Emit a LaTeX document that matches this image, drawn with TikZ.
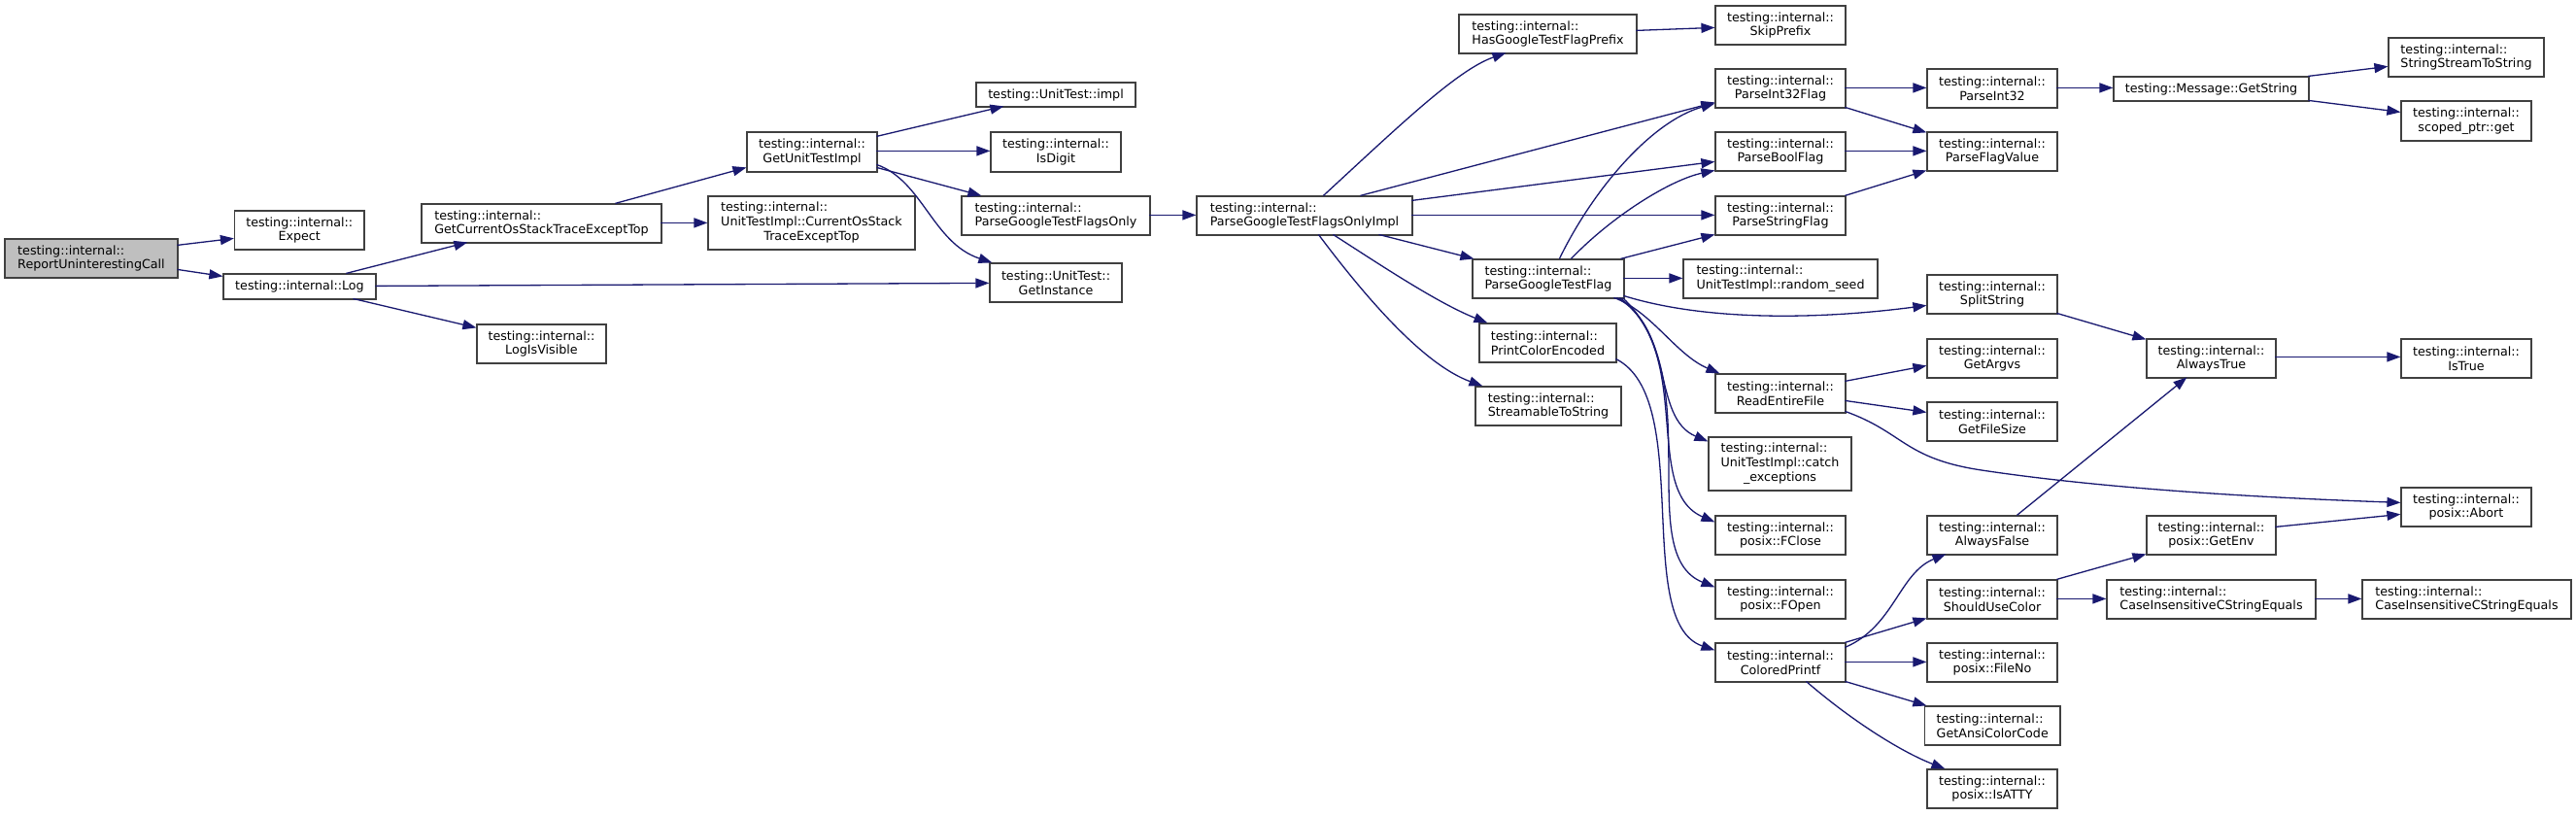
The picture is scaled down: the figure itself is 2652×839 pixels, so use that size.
\documentclass[tikz,border=0pt]{standalone}
\usepackage{fontspec}
\setmainfont{DejaVu Sans}
\usetikzlibrary{arrows.meta,calc}
\definecolor{edgecol}{HTML}{191970}
\definecolor{boxcol}{HTML}{404040}
\definecolor{rootfill}{HTML}{BFBFBF}
\newcommand\bx[7]{\node[nd,align=#6,minimum width={#4-#2},minimum height={#5-#3}] (#1) at ({(#2+#4)/2},{(#3+#5)/2}) {#7};}
\begin{document}
\begin{tikzpicture}[x=1pt,y=-1pt,
  nd/.style={draw=boxcol,line width=1.2pt,inner sep=0pt,fill=white,font=\fontsize{12.7}{14.7}\selectfont},
  ed/.style={draw=edgecol,line width=1.3pt,-{Triangle[length=14pt,width=10pt]}}]
\fill[white] (0,0) rectangle (2652,839);
\useasboundingbox (0,0) rectangle (2652,839);
\node[nd,fill=rootfill,align=left,minimum width=178,minimum height=40] (RUC) at (94,266) {testing::internal::\\ReportUninterestingCall};
\bx{Expect}{241.5}{217}{375}{257}{center}{testing::internal::\\Expect}
\bx{Log}{230}{282}{387}{308}{center}{testing::internal::Log}
\bx{LIV}{491}{334}{624}{374}{center}{testing::internal::\\LogIsVisible}
\bx{GCO}{434}{210}{681}{250}{left}{testing::internal::\\GetCurrentOsStackTraceExceptTop}
\bx{CurOs}{729}{202}{942}{257}{center}{\begin{tabular}{@{}l@{}}testing::internal::\\UnitTestImpl::CurrentOsStack\\\multicolumn{1}{@{}c@{}}{TraceExceptTop}\end{tabular}}
\bx{GUTI}{769}{136}{903}{177}{center}{testing::internal::\\GetUnitTestImpl}
\bx{impl}{1005}{85}{1169}{110}{center}{testing::UnitTest::impl}
\bx{IsDigit}{1020}{136}{1154}{177}{center}{testing::internal::\\IsDigit}
\bx{PGTFO}{990}{202}{1184}{242}{left}{testing::internal::\\ParseGoogleTestFlagsOnly}
\bx{GetInst}{1019}{271}{1155}{311}{center}{testing::UnitTest::\\GetInstance}
\bx{PGTFOI}{1232}{202}{1454}{242}{left}{testing::internal::\\ParseGoogleTestFlagsOnlyImpl}
\bx{HasP}{1502}{15}{1685}{55}{left}{testing::internal::\\HasGoogleTestFlagPrefix}
\bx{Skip}{1766}{6}{1900}{46}{center}{testing::internal::\\SkipPrefix}
\bx{PI32F}{1766}{71}{1900}{111}{center}{testing::internal::\\ParseInt32Flag}
\bx{PBF}{1766}{136}{1900}{176}{center}{testing::internal::\\ParseBoolFlag}
\bx{PSF}{1766}{202}{1900}{242}{center}{testing::internal::\\ParseStringFlag}
\bx{PGTF}{1516}{267}{1672}{307}{left}{testing::internal::\\ParseGoogleTestFlag}
\bx{RS}{1733}{267}{1933}{307}{left}{testing::internal::\\UnitTestImpl::random\_seed}
\bx{Split}{1984}{283}{2118}{323}{center}{testing::internal::\\SplitString}
\bx{PI32}{1984}{71}{2118}{111}{center}{testing::internal::\\ParseInt32}
\bx{PFV}{1984}{136}{2118}{176}{center}{testing::internal::\\ParseFlagValue}
\bx{GetStr}{2176}{79}{2377}{104}{center}{testing::Message::GetString}
\bx{SSTS}{2459}{39}{2619}{79}{left}{testing::internal::\\StringStreamToString}
\bx{Scoped}{2472}{104}{2606}{145}{center}{testing::internal::\\scoped\_ptr::get}
\bx{PCE}{1523}{333}{1664}{373}{left}{testing::internal::\\PrintColorEncoded}
\bx{STS}{1519}{398}{1669}{438}{left}{testing::internal::\\StreamableToString}
\bx{REF}{1766}{385}{1900}{425}{center}{testing::internal::\\ReadEntireFile}
\bx{Catch}{1759}{450}{1906}{505}{center}{\begin{tabular}{@{}l@{}}testing::internal::\\UnitTestImpl::catch\\\multicolumn{1}{@{}c@{}}{\_exceptions}\end{tabular}}
\bx{FClose}{1766}{531}{1900}{571}{center}{testing::internal::\\posix::FClose}
\bx{FOpen}{1766}{597}{1900}{637}{center}{testing::internal::\\posix::FOpen}
\bx{CPF}{1766}{662}{1900}{702}{center}{testing::internal::\\ColoredPrintf}
\bx{Argvs}{1984}{349}{2118}{389}{center}{testing::internal::\\GetArgvs}
\bx{FSize}{1984}{414}{2118}{454}{center}{testing::internal::\\GetFileSize}
\bx{ATrue}{2210}{349}{2343}{389}{center}{testing::internal::\\AlwaysTrue}
\bx{IsTrue}{2472}{349}{2606}{389}{center}{testing::internal::\\IsTrue}
\bx{Abort}{2472}{502}{2606}{542}{center}{testing::internal::\\posix::Abort}
\bx{AFalse}{1984}{531}{2118}{571}{center}{testing::internal::\\AlwaysFalse}
\bx{SUC}{1984}{597}{2118}{637}{center}{testing::internal::\\ShouldUseColor}
\bx{GetEnv}{2210}{531}{2343}{571}{center}{testing::internal::\\posix::GetEnv}
\bx{CI1}{2169}{597}{2384}{637}{left}{testing::internal::\\CaseInsensitiveCStringEquals}
\bx{CI2}{2432}{597}{2647}{637}{left}{testing::internal::\\CaseInsensitiveCStringEquals}
\bx{FileNo}{1984}{662}{2118}{702}{center}{testing::internal::\\posix::FileNo}
\bx{GACC}{1981.5}{727}{2121}{767}{left}{testing::internal::\\GetAnsiColorCode}
\bx{IsATTY}{1984}{792}{2118}{832}{center}{testing::internal::\\posix::IsATTY}
% edges
\draw[ed] ($(RUC.north west)+(178,7)$) -- ($(Expect.north west)+(0,29)$);
\draw[ed] ($(RUC.north west)+(178,32)$) -- ($(Log.north west)+(0,3)$);
\draw[ed] ($(Log.north west)+(127,0)$) -- ($(GCO.north west)+(48,40)$);
\draw[ed] ($(Log.north west)+(157,13)$) -- ($(GetInst.north west)+(0,21)$);
\draw[ed] ($(Log.north west)+(134,26)$) -- ($(LIV.north west)+(0,4)$);
\draw[ed] ($(GCO.north west)+(200,0)$) -- ($(GUTI.north west)+(0,37)$);
\draw[ed] ($(GCO.north west)+(247,20)$) -- ($(CurOs.north west)+(0,28)$);
\draw[ed] ($(GUTI.north west)+(134,5)$) -- ($(impl.north west)+(29,25)$);
\draw[ed] ($(GUTI.north west)+(134,20)$) -- ($(IsDigit.north west)+(0,20)$);
\draw[ed] ($(GUTI.north west)+(134,37)$) -- ($(PGTFO.north west)+(21,0)$);
\draw[ed] ($(GUTI.north west)+(134,34)$) .. controls (950,186) and (960,250) .. ($(GetInst.north west)+(3,0)$);
\draw[ed] ($(PGTFO.north west)+(194,20)$) -- ($(PGTFOI.north west)+(0,20)$);
\draw[ed] ($(PGTFOI.north west)+(131,0)$) .. controls (1440,130) and (1500,72) .. ($(HasP.north west)+(49,40)$);
\draw[ed] ($(PGTFOI.north west)+(169,0)$) -- ($(PI32F.north west)+(0,35)$);
\draw[ed] ($(PGTFOI.north west)+(222,5)$) -- ($(PBF.north west)+(0,31)$);
\draw[ed] ($(PGTFOI.north west)+(222,20)$) -- ($(PSF.north west)+(0,20)$);
\draw[ed] ($(PGTFOI.north west)+(188,40)$) -- ($(PGTF.north west)+(2,0)$);
\draw[ed] ($(PGTFOI.north west)+(141,40)$) .. controls (1420,272) and (1480,312) .. ($(PCE.north west)+(9,0)$);
\draw[ed] ($(PGTFOI.north west)+(126,40)$) .. controls (1405,305) and (1465,375) .. ($(STS.north west)+(8,0)$);
\draw[ed] ($(HasP.north west)+(183,17)$) -- ($(Skip.north west)+(0,23)$);
\draw[ed] ($(PI32F.north west)+(134,20)$) -- ($(PI32.north west)+(0,20)$);
\draw[ed] ($(PI32F.north west)+(134,40)$) -- ($(PFV.north west)+(0,1)$);
\draw[ed] ($(PBF.north west)+(134,20)$) -- ($(PFV.north west)+(0,20)$);
\draw[ed] ($(PSF.north west)+(134,0)$) -- ($(PFV.north west)+(0,40)$);
\draw[ed] ($(PI32.north west)+(134,20)$) -- ($(GetStr.north west)+(0,12)$);
\draw[ed] ($(GetStr.north west)+(201,0)$) -- ($(SSTS.north west)+(0,30)$);
\draw[ed] ($(GetStr.north west)+(201,25)$) -- ($(Scoped.north west)+(0,12)$);
\draw[ed] ($(PGTF.north west)+(90,0)$) .. controls (1640,195) and (1700,125) .. ($(PI32F.north west)+(0,36)$);
\draw[ed] ($(PGTF.north west)+(102,0)$) .. controls (1660,222) and (1720,185) .. ($(PBF.north west)+(0,40)$);
\draw[ed] ($(PGTF.north west)+(153,0)$) -- ($(PSF.north west)+(0,40)$);
\draw[ed] ($(PGTF.north west)+(156,20)$) -- ($(RS.north west)+(0,20)$);
\draw[ed] ($(PGTF.north west)+(156,38)$) .. controls (1760,332) and (1880,328) .. ($(Split.north west)+(0,32)$);
\draw[ed] ($(PGTF.north west)+(146,40)$) .. controls (1700,320) and (1725,365) .. ($(REF.north west)+(5,0)$);
\draw[ed] ($(PGTF.north west)+(149,40)$) .. controls (1725,340) and (1700,430) .. ($(Catch.north west)+(0,5)$);
\draw[ed] ($(PGTF.north west)+(152,40)$) .. controls (1745,365) and (1690,505) .. ($(FClose.north west)+(0,7)$);
\draw[ed] ($(PGTF.north west)+(155,40)$) .. controls (1760,390) and (1680,570) .. ($(FOpen.north west)+(0,8)$);
\draw[ed] ($(PCE.north west)+(141,37)$) .. controls (1745,410) and (1680,640) .. ($(CPF.north west)+(0,8)$);
\draw[ed] ($(REF.north west)+(134,8)$) -- ($(Argvs.north west)+(0,28)$);
\draw[ed] ($(REF.north west)+(134,28)$) -- ($(FSize.north west)+(0,11)$);
\draw[ed] ($(REF.north west)+(134,39)$) .. controls (1960,445) and (1960,472) .. (2040,484) .. controls (2180,505) and (2350,513) .. ($(Abort.north west)+(0,16)$);
\draw[ed] ($(Split.north west)+(134,40)$) -- ($(ATrue.north west)+(0,1)$);
\draw[ed] ($(ATrue.north west)+(133,19)$) -- ($(IsTrue.north west)+(0,19)$);
\draw[ed] ($(AFalse.north west)+(93,0)$) -- ($(ATrue.north west)+(42,40)$);
\draw[ed] ($(GetEnv.north west)+(133,12)$) -- ($(Abort.north west)+(0,28)$);
\draw[ed] ($(CPF.north west)+(134,5)$) .. controls (1950,645) and (1955,590) .. ($(AFalse.north west)+(20,40)$);
\draw[ed] ($(CPF.north west)+(134,0)$) -- ($(SUC.north west)+(0,40)$);
\draw[ed] ($(CPF.north west)+(134,20)$) -- ($(FileNo.north west)+(0,20)$);
\draw[ed] ($(CPF.north west)+(134,40)$) -- ($(GACC.north west)+(2.5,0)$);
\draw[ed] ($(CPF.north west)+(94,40)$) .. controls (1910,745) and (1960,775) .. ($(IsATTY.north west)+(19,0)$);
\draw[ed] ($(SUC.north west)+(134,0)$) -- ($(GetEnv.north west)+(0,40)$);
\draw[ed] ($(SUC.north west)+(134,20)$) -- ($(CI1.north west)+(0,20)$);
\draw[ed] ($(CI1.north west)+(215,20)$) -- ($(CI2.north west)+(0,20)$);
\end{tikzpicture}
\end{document}
